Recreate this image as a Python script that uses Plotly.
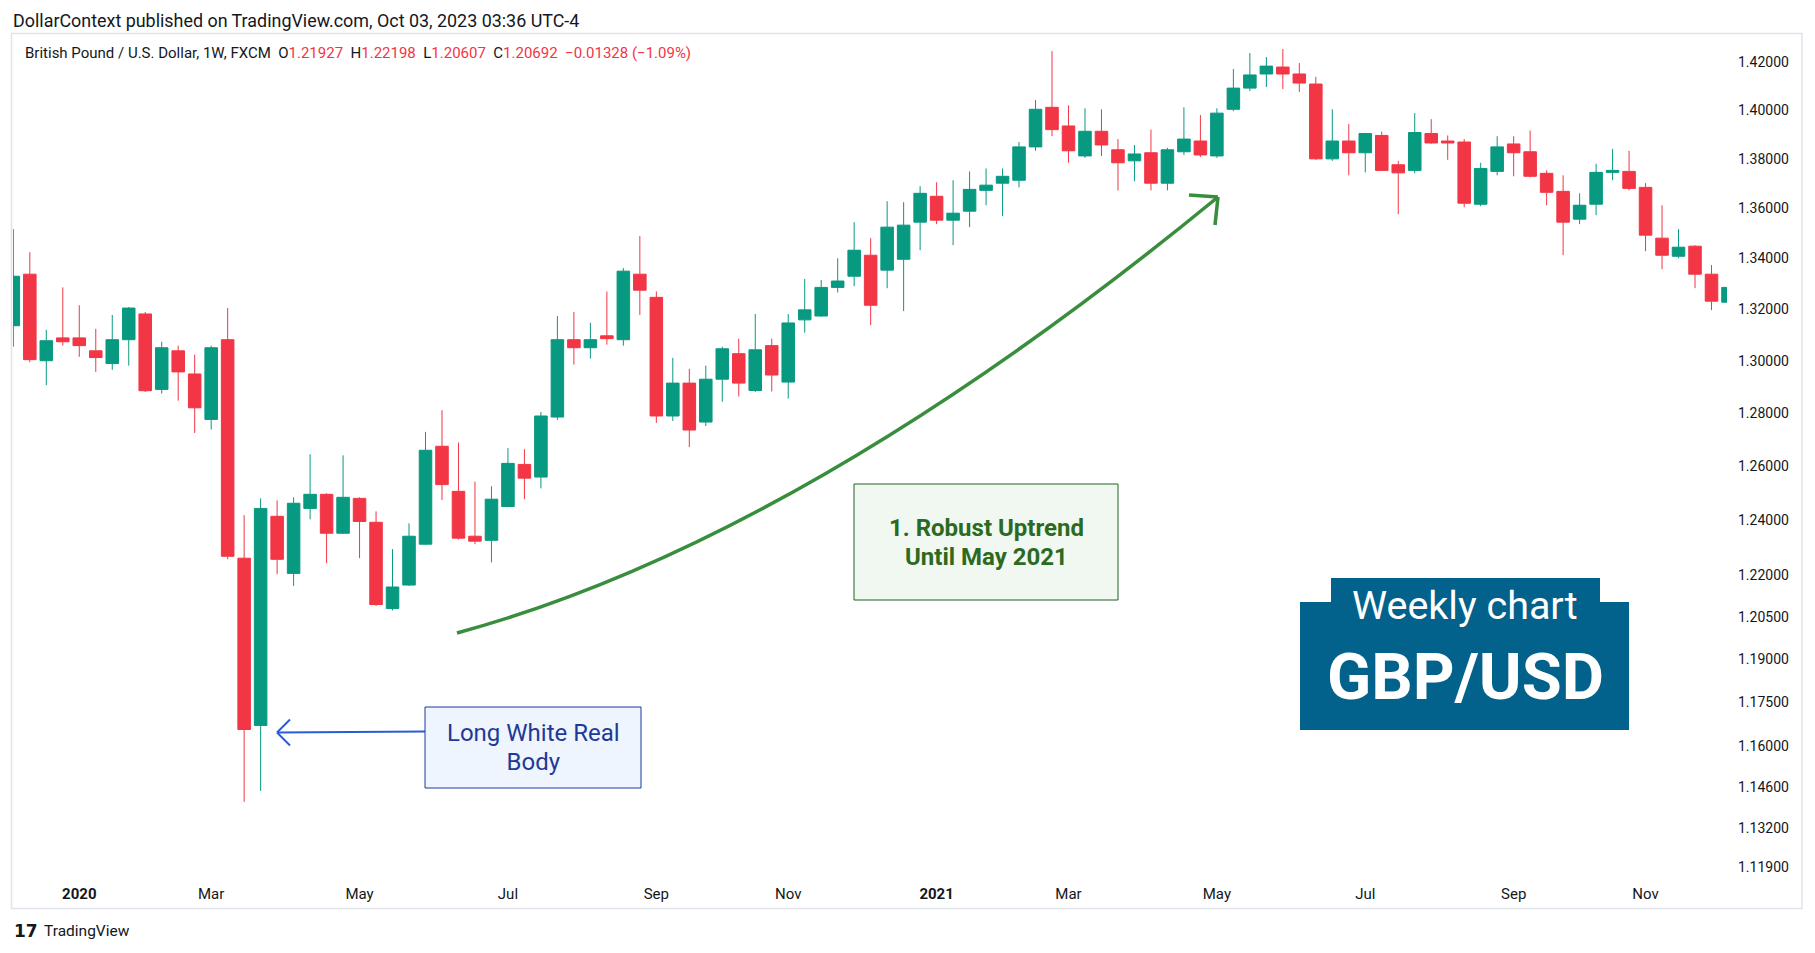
import math
import pandas as pd
import plotly.graph_objects as go

# ---------------- data (weekly GBP/USD, FXCM) ----------------
first_week = "2019-12-09"
opens = [1.3135, 1.3337, 1.3000, 1.3088, 1.3088, 1.3038, 1.2989, 1.3081, 1.3181, 1.2890,
         1.3038, 1.2949, 1.2776, 1.3081, 1.2262, 1.1670, 1.2415, 1.2207, 1.2444, 1.2496,
         1.2353, 1.2481, 1.2393, 1.2081, 1.2165, 1.2313, 1.2675, 1.2507, 1.2342, 1.2327,
         1.2451, 1.2607, 1.2560, 1.2785, 1.3081, 1.3050, 1.3096, 1.3081, 1.3337, 1.3246,
         1.2789, 1.2914, 1.2766, 1.2929, 1.3027, 1.2886, 1.3058, 1.2918, 1.3158, 1.3173,
         1.3285, 1.3329, 1.3412, 1.3353, 1.3396, 1.3544, 1.3648, 1.3552, 1.3588, 1.3672,
         1.3701, 1.3713, 1.3849, 1.4012, 1.3935, 1.3812, 1.3913, 1.3837, 1.3792, 1.3825,
         1.3701, 1.3829, 1.3873, 1.3812, 1.4004, 1.4092, 1.4151, 1.4180, 1.4151, 1.4109,
         1.3800, 1.3873, 1.3825, 1.3896, 1.3776, 1.3753, 1.3904, 1.3873, 1.3869, 1.3616,
         1.3749, 1.3861, 1.3829, 1.3741, 1.3668, 1.3556, 1.3616, 1.3745, 1.3749, 1.3684,
         1.3480, 1.3408, 1.3448, 1.3337, 1.3227]
highs = [1.3516, 1.3424, 1.3119, 1.3285, 1.3215, 1.3123, 1.3177, 1.3208, 1.3189, 1.3073,
         1.3058, 1.3023, 1.3058, 1.3204, 1.2419, 1.2481, 1.2474, 1.2485, 1.2645, 1.2500,
         1.2641, 1.2485, 1.2433, 1.2295, 1.2389, 1.2729, 1.2811, 1.2689, 1.2543, 1.2526,
         1.2668, 1.2664, 1.2804, 1.3173, 1.3189, 1.3146, 1.3269, 1.3361, 1.3488, 1.3269,
         1.3011, 1.2969, 1.2981, 1.3054, 1.3085, 1.3181, 1.3085, 1.3181, 1.3318, 1.3314,
         1.3400, 1.3544, 1.3480, 1.3628, 1.3624, 1.3689, 1.3705, 1.3713, 1.3749, 1.3761,
         1.3761, 1.3869, 1.4042, 1.4247, 1.4020, 1.4008, 1.4004, 1.3881, 1.3857, 1.3920,
         1.3845, 1.4012, 1.3980, 1.4008, 1.4172, 1.4239, 1.4222, 1.4256, 1.4197, 1.4139,
         1.4004, 1.3943, 1.3904, 1.3912, 1.3792, 1.3988, 1.3963, 1.3896, 1.3881, 1.3784,
         1.3893, 1.3893, 1.3916, 1.3753, 1.3733, 1.3660, 1.3780, 1.3841, 1.3833, 1.3701,
         1.3612, 1.3516, 1.3452, 1.3373, 1.3290]
lows = [1.3054, 1.2994, 1.2906, 1.3058, 1.3015, 1.2957, 1.2965, 1.2981, 1.2880, 1.2874,
        1.2847, 1.2725, 1.2738, 1.2258, 1.1409, 1.1446, 1.2204, 1.2162, 1.2404, 1.2244,
        1.2350, 1.2262, 1.2090, 1.2074, 1.2162, 1.2310, 1.2475, 1.2330, 1.2313, 1.2247,
        1.2449, 1.2478, 1.2518, 1.2774, 1.2985, 1.3008, 1.3062, 1.3058, 1.3177, 1.2763,
        1.2770, 1.2672, 1.2751, 1.2843, 1.2863, 1.2880, 1.2882, 1.2855, 1.3108, 1.3170,
        1.3265, 1.3290, 1.3138, 1.3282, 1.3192, 1.3432, 1.3536, 1.3452, 1.3524, 1.3612,
        1.3568, 1.3684, 1.3833, 1.3893, 1.3784, 1.3804, 1.3812, 1.3672, 1.3709, 1.3672,
        1.3672, 1.3816, 1.3808, 1.3804, 1.3996, 1.4080, 1.4096, 1.4088, 1.4076, 1.3796,
        1.3792, 1.3733, 1.3745, 1.3750, 1.3576, 1.3741, 1.3862, 1.3796, 1.3604, 1.3608,
        1.3733, 1.3729, 1.3725, 1.3612, 1.3412, 1.3536, 1.3572, 1.3713, 1.3672, 1.3428,
        1.3357, 1.3400, 1.3282, 1.3196, 1.3220]
closes = [1.3329, 1.3004, 1.3077, 1.3073, 1.3058, 1.3012, 1.3081, 1.3204, 1.2885, 1.3050,
          1.2957, 1.2820, 1.3050, 1.2269, 1.1656, 1.2444, 1.2258, 1.2463, 1.2496, 1.2353,
          1.2485, 1.2396, 1.2095, 1.2158, 1.2342, 1.2660, 1.2532, 1.2335, 1.2324, 1.2478,
          1.2611, 1.2556, 1.2789, 1.3081, 1.3050, 1.3081, 1.3085, 1.3349, 1.3274, 1.2789,
          1.2914, 1.2736, 1.2929, 1.3046, 1.2914, 1.3042, 1.2945, 1.3146, 1.3197, 1.3285,
          1.3310, 1.3432, 1.3215, 1.3524, 1.3532, 1.3660, 1.3552, 1.3580, 1.3676, 1.3693,
          1.3729, 1.3849, 1.4004, 1.3920, 1.3833, 1.3913, 1.3857, 1.3784, 1.3820, 1.3701,
          1.3837, 1.3881, 1.3816, 1.3988, 1.4092, 1.4147, 1.4184, 1.4151, 1.4113, 1.3800,
          1.3873, 1.3825, 1.3904, 1.3753, 1.3743, 1.3908, 1.3865, 1.3865, 1.3620, 1.3761,
          1.3849, 1.3825, 1.3729, 1.3664, 1.3544, 1.3612, 1.3745, 1.3753, 1.3680, 1.3492,
          1.3412, 1.3444, 1.3337, 1.3231, 1.3285]

tick_dates = ["2020-01-06", "2020-03-02", "2020-05-04", "2020-07-06", "2020-09-07", "2020-11-02",
              "2021-01-04", "2021-03-01", "2021-05-03", "2021-07-05", "2021-09-06", "2021-11-01"]
tick_text = ["<b>2020</b>", "Mar", "May", "Jul", "Sep", "Nov",
             "<b>2021</b>", "Mar", "May", "Jul", "Sep", "Nov"]
price_ticks = [1.42, 1.40, 1.38, 1.36, 1.34, 1.32, 1.30, 1.28, 1.26, 1.24, 1.22,
               1.205, 1.19, 1.175, 1.16, 1.146, 1.132, 1.119]
price_labels = [f"{v:.5f}" for v in price_ticks]

last_price = 1.20692
box_top, box_mid, box_bot = 1.2449, 1.2061, 1.1669

# ---------------- layout geometry (page pixels) ----------------
PAGE_W, PAGE_H = 1815, 953
OFF = 8                      # default body margin of the html page
FIG_W, FIG_H = PAGE_W - 2 * OFF, PAGE_H - 2 * OFF
L, R, T, B = 13, 1727, 34, 879
y_lo, y_hi = 1.11516, 1.43194
x_lo_w, x_hi_w = -0.02, 103.94

base = pd.Timestamp(first_week)
dates = [base + pd.Timedelta(weeks=i) for i in range(len(opens))]


def wdate(w):
    return (base + pd.Timedelta(days=7 * w)).strftime("%Y-%m-%d %H:%M:%S")


def xp(px):
    return (px - L) / (R - L)


def yp(py):
    return (B - py) / (B - T)


FONT = "Trebuchet MS, Roboto, sans-serif"
GREEN, RED = "#089981", "#F23645"

fig = go.Figure()
fig.add_trace(go.Candlestick(
    x=dates, open=opens, high=highs, low=lows, close=closes,
    increasing=dict(line=dict(color=GREEN, width=1), fillcolor=GREEN),
    decreasing=dict(line=dict(color=RED, width=1), fillcolor=RED),
    whiskerwidth=0, hoverinfo="skip", showlegend=False,
))

shapes = []
# gray & blue zones
shapes.append(dict(type="rect", xref="x", yref="y", layer="below",
                   x0=wdate(15.4), x1=wdate(24), y0=math.log10(box_mid), y1=math.log10(box_top),
                   fillcolor="#E8E8EA", line=dict(width=0)))
shapes.append(dict(type="line", xref="x", yref="y", layer="below",
                   x0=wdate(15.4), x1=wdate(24), y0=math.log10(box_top), y1=math.log10(box_top),
                   line=dict(color="#A3A6AF", width=1)))
shapes.append(dict(type="rect", xref="x", yref="y", layer="below",
                   x0=wdate(15.4), x1=wdate(24), y0=math.log10(box_bot), y1=math.log10(box_mid),
                   fillcolor="#D3E0FC", line=dict(width=0)))
shapes.append(dict(type="line", xref="x", yref="y", layer="below",
                   x0=wdate(15.4), x1=wdate(24), y0=math.log10(box_bot), y1=math.log10(box_bot),
                   line=dict(color="#C9CEDD", width=1)))
shapes.append(dict(type="line", xref="x", yref="y", layer="below",
                   x0=wdate(15.4), x1=wdate(24), y0=math.log10(box_mid), y1=math.log10(box_mid),
                   line=dict(color="#2962FF", width=1.5)))
# current price dotted line
shapes.append(dict(type="line", xref="paper", yref="y", layer="below",
                   x0=0, x1=1, y0=math.log10(last_price), y1=math.log10(last_price),
                   line=dict(color=RED, width=1, dash="dot")))

# pane frame
shapes.append(dict(type="rect", xref="paper", yref="paper", layer="above",
                   x0=xp(11.5), x1=xp(1802), y0=yp(33.5), y1=yp(908.5),
                   line=dict(color="#E0E3EB", width=1.5), fillcolor="rgba(0,0,0,0)"))

# green curved arrow
shapes.append(dict(type="path", xref="paper", yref="paper", layer="above",
                   path=f"M {xp(457)},{yp(633)} Q {xp(800)},{yp(540)} {xp(1218)},{yp(197)}",
                   line=dict(color="#388E3C", width=3.5)))
for (ax, ay) in [(1189, 195), (1215, 225)]:
    shapes.append(dict(type="line", xref="paper", yref="paper", layer="above",
                       x0=xp(1218), y0=yp(197), x1=xp(ax), y1=yp(ay),
                       line=dict(color="#388E3C", width=3.5)))

# blue arrow to the long white body
shapes.append(dict(type="line", xref="paper", yref="paper", layer="above",
                   x0=xp(425), y0=yp(731.5), x1=xp(278), y1=yp(732.5),
                   line=dict(color="#2A5BD7", width=2)))
for (ax, ay) in [(290, 719.5), (290, 745.5)]:
    shapes.append(dict(type="line", xref="paper", yref="paper", layer="above",
                       x0=xp(277), y0=yp(732.5), x1=xp(ax), y1=yp(ay),
                       line=dict(color="#2A5BD7", width=2)))

# text boxes
shapes.append(dict(type="rect", xref="paper", yref="paper", layer="above",
                   x0=xp(854), x1=xp(1118), y0=yp(600), y1=yp(484),
                   fillcolor="#F1F8F1", line=dict(color="#1E6323", width=1)))
shapes.append(dict(type="rect", xref="paper", yref="paper", layer="above",
                   x0=xp(425), x1=xp(641), y0=yp(788), y1=yp(707),
                   fillcolor="#EEF5FF", line=dict(color="#1A3A9A", width=1)))
shapes.append(dict(type="rect", xref="paper", yref="paper", layer="above",
                   x0=xp(1331), x1=xp(1600), y0=yp(604), y1=yp(578),
                   fillcolor="#03628B", line=dict(width=0)))
shapes.append(dict(type="rect", xref="paper", yref="paper", layer="above",
                   x0=xp(1300), x1=xp(1629), y0=yp(730), y1=yp(602),
                   fillcolor="#03628B", line=dict(width=0)))

annotations = []


def txt(text, px, py, size, color, xanchor="left", bold=False, family=FONT):
    annotations.append(dict(
        text=f"<b>{text}</b>" if bold else text, x=xp(px), y=yp(py),
        xref="paper", yref="paper", xanchor=xanchor, yanchor="middle",
        showarrow=False, font=dict(size=size, color=color, family=family), align="center"))


def two_lines(line1, line2, glyph_px):
    # base font sets the line spacing, span sets the glyph size
    s = f"<span style='font-size:{glyph_px}px'>"
    return f"{s}{line1}</span><br>{s}{line2}</span>"


txt("DollarContext published on TradingView.com, Oct 03, 2023 03:36 UTC-4", 11, 20, 17.9, "#131722")
legend = ("British Pound / U.S. Dollar, 1W, FXCM&nbsp;&nbsp;"
          "O<span style='color:#F23645'>1.21927</span>&nbsp;&nbsp;"
          "H<span style='color:#F23645'>1.22198</span>&nbsp;&nbsp;"
          "L<span style='color:#F23645'>1.20607</span>&nbsp;&nbsp;"
          "C<span style='color:#F23645'>1.20692</span>&nbsp;&nbsp;"
          "<span style='color:#F23645'>\u22120.01328 (\u22121.09%)</span>")
txt(legend, 23, 53, 15, "#131722")
txt(two_lines("1. Robust Uptrend", "Until May 2021", 24), 986, 542, 22, "#2B6A20",
    xanchor="center", bold=True)
txt(two_lines("Long White Real", "Body", 24), 533, 747, 22, "#1E3A96", xanchor="center")
txt("Weekly chart", 1465, 605, 39.5, "#FFFFFF", xanchor="center")
txt("GBP/USD", 1465, 677, 65, "#FFFFFF", xanchor="center", bold=True)
txt("17", 12, 931, 17, "#131722", bold=True, family="DejaVu Sans")
txt("TradingView", 42, 931, 15.5, "#131722")

fig.update_layout(
    width=FIG_W, height=FIG_H, autosize=False,
    margin=dict(l=L - OFF, r=FIG_W - (R - OFF), t=T - OFF, b=FIG_H - (B - OFF), pad=0),
    paper_bgcolor="white", plot_bgcolor="white",
    showlegend=False, boxgap=0.24, boxgroupgap=0,
    font=dict(family=FONT, color="#131722"),
    shapes=shapes, annotations=annotations,
    xaxis=dict(type="date", range=[wdate(x_lo_w), wdate(x_hi_w)],
               rangeslider=dict(visible=False),
               tickmode="array", tickvals=tick_dates, ticktext=tick_text,
               showgrid=False, zeroline=False, showline=False, ticks="",
               tickfont=dict(size=15, color="#131722", family=FONT),
               ticklabelstandoff=4, fixedrange=True),
    yaxis=dict(type="log", range=[math.log10(y_lo), math.log10(y_hi)], side="right",
               tickmode="array", tickvals=price_ticks, ticktext=price_labels,
               showgrid=False, zeroline=False, showline=False, ticks="",
               tickfont=dict(size=14, color="#131722", family=FONT),
               ticklabelstandoff=10, fixedrange=True),
)

fig.write_html("out.html", config={"displayModeBar": False})
